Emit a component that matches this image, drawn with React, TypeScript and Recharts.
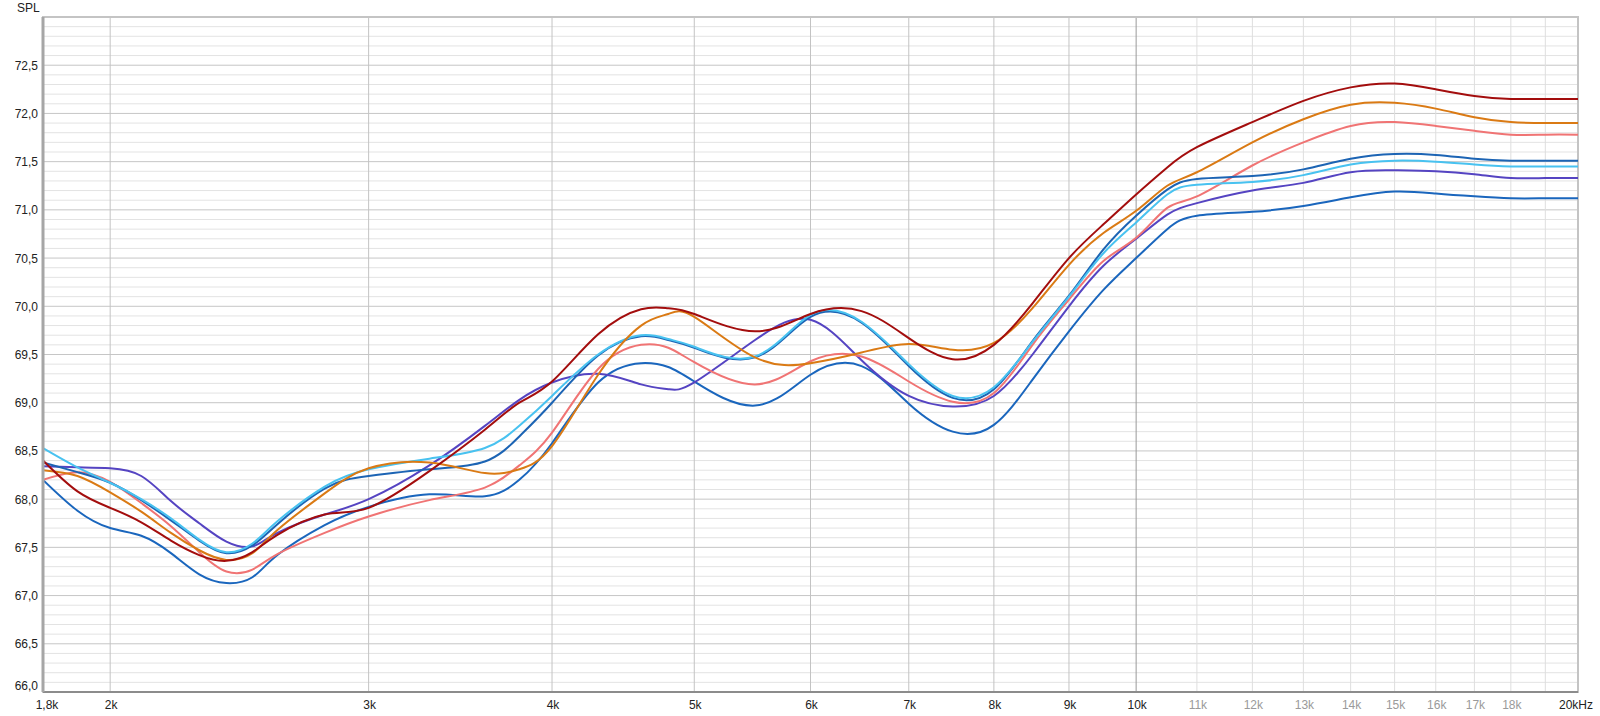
import React from 'react';
import { LineChart, Line, XAxis, YAxis, CartesianGrid, ReferenceArea } from 'recharts';

// Frequencies (Hz)
const freqs = [1800, 1900, 2000, 2100, 2200, 2300, 2400, 2500, 2600, 2800, 3000, 3300, 3600, 3800, 4000, 4300, 4600, 4800, 5000, 5500, 6000, 6500, 7000, 7500, 8000, 8500, 9000, 9500, 10000, 10500, 11000, 12000, 13000, 14000, 15000, 16000, 17000, 18000, 19000, 20000];

// SPL series (dB)
const darkRed = [68.40, 68.08, 67.91, 67.76, 67.57, 67.42, 67.36, 67.45, 67.63, 67.84, 67.91, 68.29, 68.72, 69.00, 69.22, 69.71, 69.97, 69.98, 69.92, 69.74, 69.92, 69.95, 69.67, 69.45, 69.60, 70.03, 70.50, 70.85, 71.16, 71.44, 71.65, 71.91, 72.13, 72.27, 72.31, 72.25, 72.18, 72.15, 72.15, 72.15];
const orange = [68.30, 68.24, 68.07, 67.87, 67.65, 67.47, 67.37, 67.44, 67.68, 68.06, 68.32, 68.38, 68.27, 68.31, 68.55, 69.29, 69.80, 69.92, 69.89, 69.47, 69.41, 69.52, 69.61, 69.55, 69.62, 69.98, 70.43, 70.76, 70.99, 71.25, 71.39, 71.70, 71.94, 72.09, 72.11, 72.05, 71.96, 71.91, 71.90, 71.90];
const salmon = [68.20, 68.28, 68.18, 67.96, 67.72, 67.45, 67.25, 67.27, 67.43, 67.65, 67.82, 67.99, 68.12, 68.35, 68.69, 69.35, 69.60, 69.57, 69.42, 69.19, 69.43, 69.48, 69.22, 69.01, 69.10, 69.60, 70.07, 70.47, 70.71, 71.02, 71.14, 71.46, 71.70, 71.87, 71.91, 71.87, 71.82, 71.78, 71.78, 71.78];
const blueUpper = [68.38, 68.28, 68.17, 67.99, 67.78, 67.57, 67.44, 67.52, 67.74, 68.11, 68.24, 68.31, 68.39, 68.65, 69.00, 69.49, 69.69, 69.65, 69.57, 69.47, 69.89, 69.83, 69.38, 69.05, 69.14, 69.64, 70.11, 70.59, 70.94, 71.21, 71.32, 71.35, 71.42, 71.53, 71.58, 71.57, 71.53, 71.51, 71.51, 71.51];
const cyan = [68.53, 68.33, 68.17, 68.00, 67.80, 67.58, 67.45, 67.54, 67.77, 68.13, 68.31, 68.42, 68.53, 68.76, 69.07, 69.50, 69.70, 69.66, 69.58, 69.48, 69.91, 69.84, 69.40, 69.07, 69.16, 69.63, 70.10, 70.55, 70.87, 71.16, 71.26, 71.29, 71.36, 71.47, 71.51, 71.50, 71.47, 71.45, 71.45, 71.45];
const purple = [68.34, 68.33, 68.32, 68.24, 67.98, 67.75, 67.56, 67.51, 67.65, 67.84, 68.00, 68.35, 68.76, 69.03, 69.21, 69.30, 69.19, 69.14, 69.21, 69.65, 69.86, 69.44, 69.07, 68.96, 69.07, 69.50, 70.00, 70.42, 70.70, 70.95, 71.07, 71.20, 71.28, 71.39, 71.41, 71.40, 71.37, 71.33, 71.33, 71.33];
const blueLower = [68.20, 67.88, 67.70, 67.62, 67.44, 67.22, 67.13, 67.19, 67.42, 67.73, 67.92, 68.05, 68.03, 68.20, 68.58, 69.21, 69.41, 69.37, 69.22, 68.97, 69.29, 69.38, 68.99, 68.70, 68.77, 69.24, 69.74, 70.17, 70.50, 70.80, 70.94, 70.98, 71.04, 71.13, 71.19, 71.17, 71.14, 71.12, 71.12, 71.12];

// Axis ticks & labels
const xTicks = [1800, 2000, 3000, 4000, 5000, 6000, 7000, 8000, 9000, 10000, 11000, 12000, 13000, 14000, 15000, 16000, 17000, 18000, 20000];
const xTickLabels = ['1,8k', '2k', '3k', '4k', '5k', '6k', '7k', '8k', '9k', '10k', '11k', '12k', '13k', '14k', '15k', '16k', '17k', '18k', '20kHz'];
const yTicks = [66, 66.5, 67, 67.5, 68, 68.5, 69, 69.5, 70, 70.5, 71, 71.5, 72, 72.5];
const yTickLabels = ['66,0', '66,5', '67,0', '67,5', '68,0', '68,5', '69,0', '69,5', '70,0', '70,5', '71,0', '71,5', '72,0', '72,5'];

const vGridLow = [2000, 3000, 4000, 5000, 6000, 7000, 8000, 9000];
const vGridTen = [10000];
const vGridHigh = [11000, 12000, 13000, 14000, 15000, 16000, 17000, 18000, 19000];
const hGridMajor = yTicks;
const hGridMinor: number[] = [];
for (let i = 1; i < 70; i++) {
  if (i % 5 !== 0) hGridMinor.push(Math.round((66 + i / 10) * 10) / 10);
}

const data = freqs.map((f, i) => ({
  f,
  darkRed: darkRed[i],
  orange: orange[i],
  salmon: salmon[i],
  blueUpper: blueUpper[i],
  cyan: cyan[i],
  purple: purple[i],
  blueLower: blueLower[i],
}));

const FONT = '"Liberation Sans", Arial, sans-serif';

const XTick = (props: any) => {
  const { x, y, payload } = props;
  const idx = xTicks.indexOf(payload.value);
  const label = idx >= 0 ? xTickLabels[idx] : '';
  const gray = payload.value > 10000 && payload.value < 20000;
  let dx = 1;
  if (idx === 0) dx = 4;
  if (payload.value === 20000) dx = -2;
  return (
    <text x={x + dx} y={y} dy={17} textAnchor="middle" fontFamily={FONT} fontSize={12} fill={gray ? '#9a9a9a' : '#222'}>
      {label}
    </text>
  );
};

const YTick = (props: any) => {
  const { x, y, payload } = props;
  const idx = yTicks.indexOf(payload.value);
  const label = idx >= 0 ? yTickLabels[idx] : '';
  const dy = payload.value === 66 ? -2 : 4.5;
  return (
    <text x={x} y={y} dy={dy} textAnchor="end" fontFamily={FONT} fontSize={12} fill="#222">
      {label}
    </text>
  );
};

const series = [
  { key: 'blueLower', color: '#1a66bd' },
  { key: 'purple', color: '#5544c2' },
  { key: 'salmon', color: '#f07474' },
  { key: 'blueUpper', color: '#1c64b4' },
  { key: 'cyan', color: '#48c2f0' },
  { key: 'orange', color: '#da7a14' },
  { key: 'darkRed', color: '#a30d0d' },
];

export default function App() {
  return (
    <div style={{ position: 'absolute', left: 0, top: 0, width: 1600, height: 716, background: '#fff' }}>
      <div style={{ position: 'absolute', left: 17, top: 1, fontFamily: FONT, fontSize: 12, color: '#222' }}>SPL</div>
      <LineChart width={1600} height={716} data={data} margin={{ top: 17, right: 22, bottom: 0, left: 0 }}>
        <CartesianGrid horizontal={true} vertical={false} horizontalValues={hGridMinor} stroke="#e3e3e3" strokeWidth={1} />
        <CartesianGrid horizontal={true} vertical={false} horizontalValues={hGridMajor} stroke="#c6c6c6" strokeWidth={1} />
        <CartesianGrid horizontal={false} vertical={true} verticalValues={vGridHigh} stroke="#dedede" strokeWidth={1} />
        <CartesianGrid horizontal={false} vertical={true} verticalValues={vGridLow} stroke="#c3c3c3" strokeWidth={1} />
        <CartesianGrid horizontal={false} vertical={true} verticalValues={vGridTen} stroke="#9a9a9a" strokeWidth={1} />
        <ReferenceArea x1={1800} x2={20000} y1={66} y2={73} fill="none" stroke="#c4c4c4" strokeWidth={2} ifOverflow="visible" />
        <XAxis
          dataKey="f"
          type="number"
          scale="log"
          domain={[1800, 20000]}
          ticks={xTicks}
          allowDataOverflow
          height={24}
          tickLine={false}
          tickSize={0}
          tickMargin={0}
          axisLine={{ stroke: '#8c8c8c', strokeWidth: 2 }}
          tick={<XTick />}
          interval={0}
        />
        <YAxis
          type="number"
          domain={[66, 73]}
          ticks={yTicks}
          allowDataOverflow
          width={43}
          tickLine={false}
          tickSize={0}
          tickMargin={5}
          axisLine={{ stroke: '#a6a6a6', strokeWidth: 3 }}
          tick={<YTick />}
          interval={0}
        />
        {series.map((s) => (
          <Line
            key={s.key}
            dataKey={s.key}
            type="natural"
            stroke={s.color}
            strokeWidth={2}
            dot={false}
            activeDot={false}
            isAnimationActive={false}
          />
        ))}
      </LineChart>
    </div>
  );
}
